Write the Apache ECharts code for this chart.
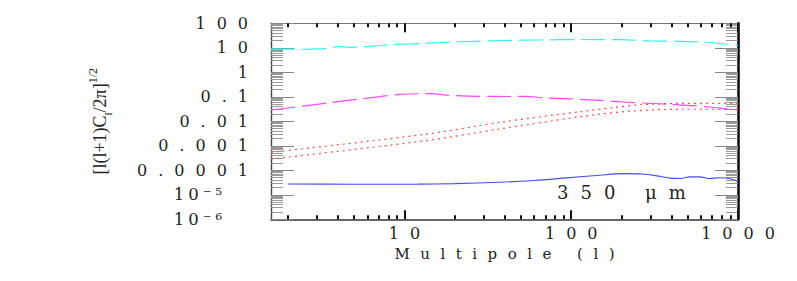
<!DOCTYPE html>
<html><head><meta charset="utf-8">
<script src="https://cdn.jsdelivr.net/npm/echarts@6/dist/echarts.min.js"></script>
<style>
html,body{margin:0;padding:0;background:#fff;}
#c{width:797px;height:281px;}
#c text[style*="DejaVu Serif"][style*="16px"]{letter-spacing:11px;}
#c text[style*="DejaVu Serif"][style*="15px"]{letter-spacing:10.5px;}
#c text[style*="DejaVu Serif"][style*="16.5px"]{letter-spacing:4px;}
#c text[style*="DejaVu Serif"][style*="18px"]{letter-spacing:12px;}
</style></head><body><div id="c"></div>
<script>
// ---- data ----
const cyanL = [1.59, 2.2, 2.54, 3.0, 3.59, 3.95, 4.73, 5.57, 6.22, 7.15, 8.8, 10.8, 13.3, 17.5, 26.5, 40, 65, 113, 195, 295, 446, 590, 778, 1000];
const cyanV = [8.9, 8.9, 8.7, 9.0, 9.6, 11.3, 10.5, 10.8, 11.5, 12.4, 13.9, 14.3, 15.3, 16.8, 18.4, 19.9, 20.8, 21.8, 21.4, 19.3, 18.4, 17.3, 15.0, 12.2];

const magentaL = [1.59, 2.47, 3.59, 5.2, 7.0, 9.4, 14.2, 18.8, 28.4, 43, 52.6, 69.7, 98, 148, 218, 330, 523, 720, 1000];
const magentaV = [0.0289, 0.042, 0.058, 0.079, 0.100, 0.126, 0.134, 0.115, 0.105, 0.103, 0.105, 0.089, 0.083, 0.071, 0.060, 0.052, 0.044, 0.0366, 0.0289];

const redUpperL = [1.59, 13.3, 37.4, 113, 178, 268, 446, 1000];
const redUpperV = [0.000543, 0.00294, 0.0091, 0.0247, 0.036, 0.048, 0.054, 0.054];

const redLowerL = [1.59, 13.3, 37.4, 113, 148, 235, 446, 1000];
const redLowerV = [0.000289, 0.00161, 0.0049, 0.0155, 0.0195, 0.0265, 0.031, 0.031];

const blueL = [2, 5, 12, 20, 37, 60, 94, 148, 204, 268, 326, 390, 446, 516, 590, 676, 778, 891, 1000];
const blueV = [2.75e-5, 2.7e-5, 2.72e-5, 2.85e-5, 3.25e-5, 3.85e-5, 4.9e-5, 6.3e-5, 7.3e-5, 7.1e-5, 5.9e-5, 4.8e-5, 4.6e-5, 5.4e-5, 5.4e-5, 4.6e-5, 5.0e-5, 4.6e-5, 3.4e-5];

// ---- ticks and labels ----
const xMajorTicks = [10, 100, 1000];
const xMinorTicks = [2,3,4,5,6,7,8,9,20,30,40,50,60,70,80,90,200,300,400,500,600,700,800,900];
const xLabelValues = [10, 100, 1000];
const xTickLabels = ['10', '100', '1000'];

const yMajorTicks = [1e-6, 1e-5, 1e-4, 1e-3, 1e-2, 1e-1, 1, 10, 100];
const yMinorMantissas = [2,3,4,5,6,7,8,9];
const yMinorDecades = [1e-6, 1e-5, 1e-4, 1e-3, 1e-2, 1e-1, 1, 10];
const yLabelValues = [1e-4, 1e-3, 1e-2, 1e-1, 1, 10, 100];
const yTickLabels = ['0.0001', '0.001', '0.01', '0.1', '1', '10', '100'];
const yExpLabelValues = [1e-6, 1e-5];
const yExpTickLabels = ['10⁻⁶', '10⁻⁵'];

const annotationText = '350 μm';
const xTitle = 'Multipole (l)';

const X_MIN = 1.585, X_MAX = 1000, Y_MIN = 1e-6, Y_MAX = 100;

const yMinorTicks = [];
yMinorDecades.forEach(d => yMinorMantissas.forEach(m => yMinorTicks.push(m * d)));

function zip(a, b) { return a.map((v, i) => [v, b[i]]); }
function lookup(vals, labels) {
  return function (v) {
    for (let i = 0; i < vals.length; i++) {
      if (Math.abs(Math.log10(v) - Math.log10(vals[i])) < 1e-6) return labels[i];
    }
    return '';
  };
}

const labelFont = {fontFamily: 'DejaVu Serif', fontSize: 16, color: '#222'};

function xAxis(pos, ticks, len, line, label) {
  return {
    type: 'log', logBase: 10, min: X_MIN, max: X_MAX, position: pos, gridIndex: 0,
    axisLine: line ? {show: true, onZero: false, lineStyle: line} : {show: false},
    axisTick: {show: true, inside: true, length: len, customValues: ticks, lineStyle: {color: '#111', width: 2}},
    minorTick: {show: false}, splitLine: {show: false},
    axisLabel: label ? Object.assign({show: true, customValues: xLabelValues, formatter: lookup(xLabelValues, xTickLabels), margin: 6, padding: [0, 0, 0, 11]}, labelFont) : {show: false}
  };
}
function yAxis(pos, ticks, len, line, label, tickColor) {
  return {
    type: 'log', logBase: 10, min: Y_MIN, max: Y_MAX, position: pos, gridIndex: 0,
    axisLine: line ? {show: true, onZero: false, lineStyle: line} : {show: false},
    axisTick: ticks ? {show: true, inside: true, length: len, customValues: ticks, lineStyle: {color: tickColor, width: 1}} : {show: false},
    minorTick: {show: false}, splitLine: {show: false},
    axisLabel: label || {show: false}
  };
}

const xAxes = [
  xAxis('bottom', xMajorTicks, 9, {color: '#333', width: 1.5}, true),
  xAxis('bottom', xMinorTicks, 4, null, false),
  xAxis('top', xMajorTicks, 9, {color: '#777', width: 1}, false),
  xAxis('top', xMinorTicks, 4, null, false)
];
xAxes[0].name = xTitle;
xAxes[0].nameLocation = 'middle';
xAxes[0].nameGap = 26;
xAxes[0].nameTextStyle = {fontFamily: 'DejaVu Serif', fontSize: 15, color: '#222', padding: [0, 0, 0, 10.5], verticalAlign: 'top'};

const yAxes = [
  yAxis('left', yMajorTicks, 23, {color: '#444', width: 1.4},
    Object.assign({show: true, customValues: yLabelValues, formatter: lookup(yLabelValues, yTickLabels), margin: 12, padding: [5, 0, 0, 0]}, labelFont), '#888'),
  yAxis('left', yMinorTicks, 12, null, null, '#999'),
  yAxis('left', null, 0, null,
    Object.assign({show: true, customValues: yExpLabelValues, formatter: lookup(yExpLabelValues, yExpTickLabels), margin: 45, padding: [5, 0, 0, 0]}, labelFont, {fontSize: 16.5}), '#888'),
  yAxis('right', yMajorTicks, 23, {color: '#000', width: 2.5}, null, '#888'),
  yAxis('right', yMinorTicks, 12, null, null, '#999')
];
yAxes[0].name = '[l(l+1)C{sub|l}/2π]{sup|1/2}';
yAxes[0].nameLocation = 'middle';
yAxes[0].nameRotate = 90;
yAxes[0].nameGap = 158;
yAxes[0].nameTextStyle = {
  fontFamily: 'Liberation Serif', fontSize: 18, color: '#222', lineHeight: 26,
  rich: {
    sub: {fontFamily: 'Liberation Serif', fontSize: 11, color: '#222', verticalAlign: 'bottom', lineHeight: 26},
    sup: {fontFamily: 'Liberation Serif', fontSize: 12, color: '#222', verticalAlign: 'top', lineHeight: 26}
  }
};

function lineSeries(L, V, color, type, width) {
  return {
    type: 'line', xAxisIndex: 0, yAxisIndex: 0, data: zip(L, V),
    showSymbol: false, symbol: 'none', smooth: 0.3, silent: true,
    lineStyle: {color: color, width: width, type: type}
  };
}

const chart = echarts.init(document.getElementById('c'), null, {renderer: 'svg', width: 797, height: 281});
chart.setOption({
  animation: false,
  backgroundColor: '#fff',
  title: {text: annotationText, left: 557, top: 183, padding: 0,
    textStyle: {fontFamily: 'DejaVu Serif', fontSize: 18, fontWeight: 'normal', color: '#222'}},
  grid: {left: 271, right: 59, top: 23.3, bottom: 61.7, containLabel: false, outerBoundsMode: 'none'},
  xAxis: xAxes,
  yAxis: yAxes,
  series: [
    lineSeries(cyanL, cyanV, '#2ef2f2', [24, 7], 1.2),
    lineSeries(magentaL, magentaV, '#ff44ff', [24, 7], 1.2),
    lineSeries(redUpperL, redUpperV, '#ff4a4a', [2, 4], 1.2),
    lineSeries(redLowerL, redLowerV, '#ff4a4a', [2, 4], 1.2),
    lineSeries(blueL, blueV, '#4848ff', 'solid', 1.1)
  ]
});
</script></body></html>
